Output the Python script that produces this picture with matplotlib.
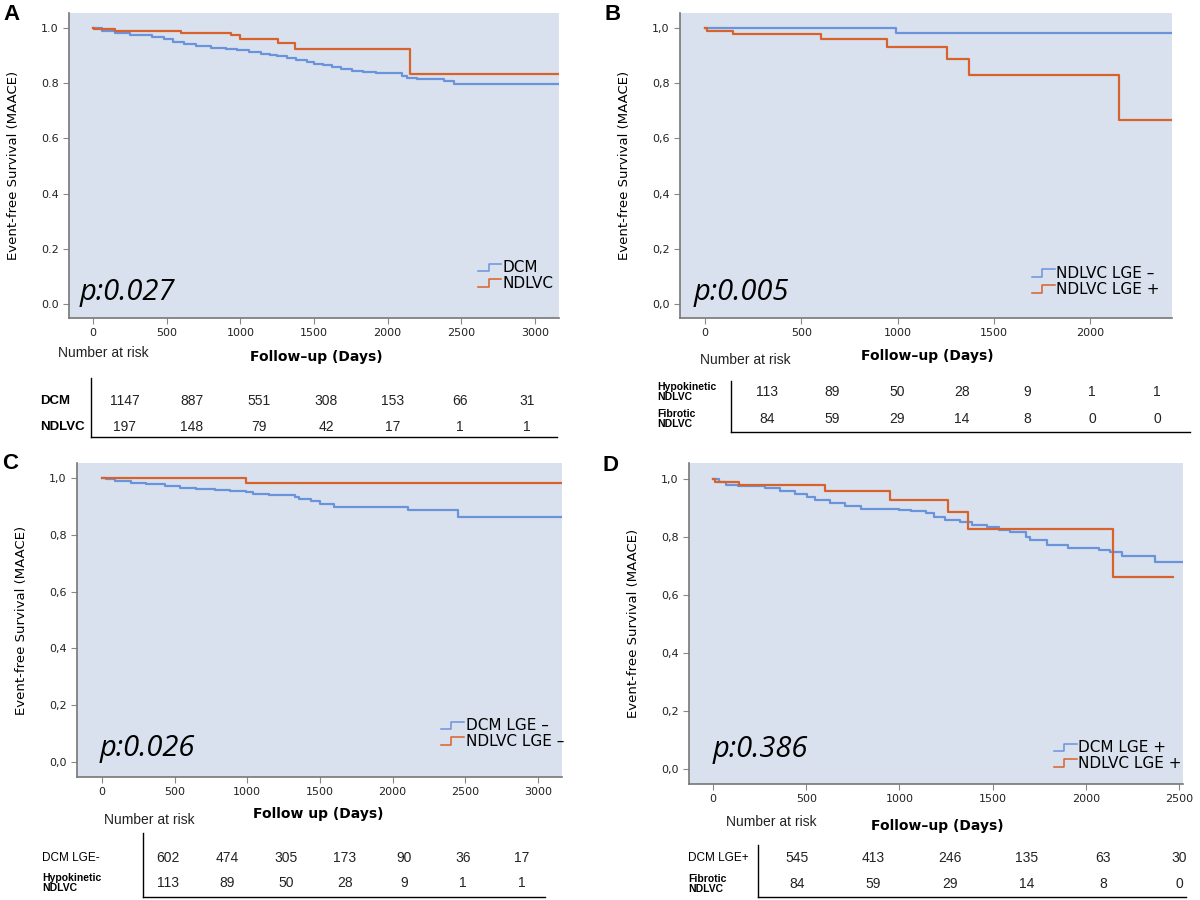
import matplotlib
matplotlib.use("Agg")
import matplotlib.pyplot as plt
from matplotlib.lines import Line2D
from matplotlib.legend_handler import HandlerBase

# ---- data ----
a_dcm_t = [0, 60, 150, 250, 400, 480, 540, 620, 700, 800, 900, 980, 1060, 1140, 1200, 1250,
           1320, 1380, 1450, 1500, 1560, 1620, 1680, 1760, 1830, 1920, 2100, 2130, 2200, 2380, 2450, 3164]
a_dcm_s = [1.0, 0.99, 0.98, 0.975, 0.967, 0.958, 0.948, 0.941, 0.935, 0.929, 0.924, 0.919, 0.913, 0.907,
           0.901, 0.897, 0.891, 0.884, 0.877, 0.871, 0.864, 0.858, 0.851, 0.845, 0.840, 0.835, 0.826,
           0.820, 0.815, 0.806, 0.796, 0.796]
a_nd_t = [0, 10, 150, 595, 940, 995, 1255, 1370, 2150, 3164]
a_nd_s = [1.0, 0.995, 0.99, 0.983, 0.973, 0.961, 0.944, 0.925, 0.832, 0.832]

b_neg_t = [0, 993, 2426]
b_neg_s = [1.0, 0.983, 0.983]
b_pos_t = [0, 10, 147, 600, 943, 1259, 1370, 2151, 2426]
b_pos_s = [1.0, 0.99, 0.979, 0.96, 0.932, 0.886, 0.83, 0.667, 0.667]

c_dcm_t = [0, 30, 92, 198, 303, 435, 540, 645, 777, 882, 988, 1040, 1146, 1330, 1357, 1436, 1501,
           1594, 2107, 2450, 3166]
c_dcm_s = [1.0, 0.995, 0.991, 0.981, 0.978, 0.973, 0.966, 0.961, 0.959, 0.955, 0.950, 0.944, 0.939,
           0.934, 0.925, 0.919, 0.907, 0.899, 0.886, 0.864, 0.864]
c_nd_t = [0, 990, 3166]
c_nd_s = [1.0, 0.982, 0.982]

d_dcm_t = [0, 31, 72, 134, 278, 360, 442, 504, 545, 628, 710, 792, 998, 1060, 1142, 1183, 1245, 1327,
           1389, 1471, 1533, 1595, 1677, 1698, 1790, 1904, 2068, 2130, 2192, 2371, 2521]
d_dcm_s = [1.0, 0.99, 0.98, 0.975, 0.97, 0.959, 0.949, 0.938, 0.927, 0.917, 0.908, 0.898, 0.894, 0.890,
           0.881, 0.869, 0.860, 0.853, 0.842, 0.835, 0.823, 0.816, 0.800, 0.791, 0.772, 0.762, 0.754,
           0.747, 0.734, 0.714, 0.714]
d_nd_t = [0, 10, 138, 603, 947, 1259, 1369, 2146, 2465]
d_nd_s = [1.0, 0.99, 0.978, 0.959, 0.929, 0.885, 0.828, 0.662, 0.662]

risk_a = {"DCM": [1147, 887, 551, 308, 153, 66, 31], "NDLVC": [197, 148, 79, 42, 17, 1, 1]}
risk_b = {"Hypokinetic\nNDLVC": [113, 89, 50, 28, 9, 1, 1], "Fibrotic\nNDLVC": [84, 59, 29, 14, 8, 0, 0]}
risk_c = {"DCM LGE-": [602, 474, 305, 173, 90, 36, 17], "Hypokinetic\nNDLVC": [113, 89, 50, 28, 9, 1, 1]}
risk_d = {"DCM LGE+": [545, 413, 246, 135, 63, 30], "Fibrotic\nNDLVC": [84, 59, 29, 14, 8, 0]}

yticks = [0.0, 0.2, 0.4, 0.6, 0.8, 1.0]
ylabels_dot = ["0.0", "0.2", "0.4", "0.6", "0.8", "1.0"]
ylabels_comma = ["0,0", "0,2", "0,4", "0,6", "0,8", "1,0"]

BLUE = "#6b93dc"
ORANGE = "#d8622c"
BG = "#d9e1ee"
W, H = 1200, 900


def fx(x):
    return x / W


def fy(y):
    return 1 - y / H


class StepHandler(HandlerBase):
    def create_artists(self, legend, orig, xd, yd, width, height, fontsize, trans):
        x0, y0 = -xd, -yd
        xs = [x0, x0 + width * 0.45, x0 + width * 0.45, x0 + width]
        ys = [y0 + height * 0.1, y0 + height * 0.1, y0 + height * 0.8, y0 + height * 0.8]
        return [Line2D(xs, ys, color=orig.get_color(), lw=1.1, transform=trans)]


def panel(fig, box, xlim, ylim, xticks, ylabels, curves, labels, pval, ptxt_pos, leg_pos, letter, letter_pos):
    left, top, right, bottom = box
    ax = fig.add_axes([fx(left), fy(bottom), fx(right - left), (bottom - top) / H])
    ax.set_facecolor(BG)
    handles = []
    for (t, s), col in zip(curves, [BLUE, ORANGE]):
        h, = ax.step(t, s, where="post", color=col, lw=1.6)
        handles.append(h)
    ax.set_xlim(*xlim)
    ax.set_ylim(*ylim)
    ax.set_xticks(xticks)
    ax.set_yticks(yticks)
    ax.set_yticklabels(ylabels)
    for sp in ["top", "right"]:
        ax.spines[sp].set_visible(False)
    for sp in ["left", "bottom"]:
        ax.spines[sp].set_color("#777777")
        ax.spines[sp].set_linewidth(1.2)
    ax.tick_params(colors="#888888", labelcolor="#222222", labelsize=8, length=4, width=0.8)
    ax.set_ylabel("Event-free Survival (MAACE)", fontsize=9.5)
    ax.yaxis.set_label_coords(-0.10, 0.5)
    ax.text(ptxt_pos[0], ptxt_pos[1], pval, transform=ax.transAxes, fontsize=21, style="italic",
            family="Open Sans", va="center", ha="left")
    ax.legend(handles, labels, loc="upper left", bbox_to_anchor=leg_pos, frameon=False, fontsize=11,
              handlelength=1.5, handletextpad=0.1, labelspacing=0.05, borderpad=0,
              handler_map={Line2D: StepHandler()})
    fig.text(fx(letter_pos[0]), fy(letter_pos[1]), letter, fontsize=16, weight="bold",
             family="Liberation Sans", ha="center", va="center")
    return ax


def table(fig, risk, label_x, row_ys, vline_x, vline_y, hline_x1, val_x0, val_dx,
          nar_pos, fu_pos, fu_text, label_size, label_weight):
    for (name, vals), ry in zip(risk.items(), row_ys):
        multi = "\n" in name
        fig.text(fx(label_x), fy(ry), name, fontsize=label_size if multi else label_size + 1,
                 weight=label_weight if not multi else "bold", family="Liberation Sans",
                 ha="left", va="center", linespacing=1.0)
        for i, v in enumerate(vals):
            fig.text(fx(val_x0 + i * val_dx), fy(ry), str(v), fontsize=10, family="Liberation Sans",
                     ha="center", va="center", color="#222222")
    fig.add_artist(Line2D([fx(vline_x), fx(vline_x)], [fy(vline_y[0]), fy(vline_y[1])],
                          transform=fig.transFigure, color="black", lw=1))
    fig.add_artist(Line2D([fx(vline_x), fx(hline_x1)], [fy(vline_y[1]), fy(vline_y[1])],
                          transform=fig.transFigure, color="black", lw=1))
    fig.text(fx(nar_pos[0]), fy(nar_pos[1]), "Number at risk", fontsize=10, family="Liberation Sans",
             ha="left", va="center", color="#222222")
    fig.text(fx(fu_pos[0]), fy(fu_pos[1]), fu_text, fontsize=10, weight="bold", ha="center", va="center")


fig = plt.figure(figsize=(12, 9), dpi=100)

panel(fig, (69, 13, 559, 318), (-163, 3163), (-0.051, 1.054), [0, 500, 1000, 1500, 2000, 2500, 3000],
      ylabels_dot, [(a_dcm_t, a_dcm_s), (a_nd_t, a_nd_s)], ["DCM", "NDLVC"], "p:0.027",
      (0.022, 0.085), (0.82, 0.215), "A", (11, 14))
panel(fig, (680, 13, 1172, 318), (-130, 2426), (-0.051, 1.054), [0, 500, 1000, 1500, 2000],
      ylabels_comma, [(b_neg_t, b_neg_s), (b_pos_t, b_pos_s)], ["NDLVC LGE \u2013", "NDLVC LGE +"],
      "p:0.005", (0.028, 0.085), (0.70, 0.196), "B", (613, 14))
panel(fig, (77, 463, 562, 777), (-172, 3166), (-0.053, 1.053), [0, 500, 1000, 1500, 2000, 2500, 3000],
      ylabels_comma, [(c_dcm_t, c_dcm_s), (c_nd_t, c_nd_s)], ["DCM LGE \u2013", "NDLVC LGE \u2013"],
      "p:0.026", (0.047, 0.092), (0.735, 0.212), "C", (10, 463))
panel(fig, (689, 463, 1183, 784), (-129, 2521), (-0.052, 1.055), [0, 500, 1000, 1500, 2000, 2500],
      ylabels_comma, [(d_dcm_t, d_dcm_s), (d_nd_t, d_nd_s)], ["DCM LGE +", "NDLVC LGE +"],
      "p:0.386", (0.047, 0.106), (0.723, 0.16), "D", (610, 465))

table(fig, risk_a, 40, [401, 427], 91, (378, 437), 557, 125, 67, (58, 353), (316, 357),
      "Follow\u2013up (Days)", 8.5, "bold")
table(fig, risk_b, 657, [392, 419], 731, (381, 432), 1190, 767, 65, (700, 360), (927, 356),
      "Follow\u2013up (Days)", 7.5, "bold")
table(fig, risk_c, 42, [858, 883], 143, (833, 897), 545, 168, 59, (104, 820), (318, 814),
      "Follow up (Days)", 7.5, "normal")
table(fig, risk_d, 688, [858, 884], 758, (845, 897), 1186, 797, 76.5, (726, 822), (937, 826),
      "Follow\u2013up (Days)", 7.5, "normal")

fig.savefig("out.png", dpi=100)
